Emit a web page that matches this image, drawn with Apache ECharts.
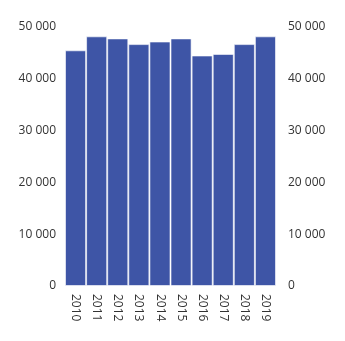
<!DOCTYPE html>
<html>
<head>
<meta charset="utf-8">
<script src="https://cdn.jsdelivr.net/npm/echarts@6/dist/echarts.min.js"></script>
<style>
  html, body { margin: 0; padding: 0; background: #fff; }
  #chart { width: 345px; height: 341px; }
</style>
</head>
<body>
<div id="chart"></div>
<script>
const years = ['2010', '2011', '2012', '2013', '2014', '2015', '2016', '2017', '2018', '2019'];
const values = [45500, 48200, 47800, 46700, 47200, 47800, 44500, 44800, 46700, 48200];
const yMin = 0;
const yMax = 50000;
const yStep = 10000;

const fmt = v => String(v).replace(/\B(?=(\d{3})+(?!\d))/g, '\u00a0');

const axisLabel = {
  color: '#333',
  fontFamily: 'Open Sans',
  fontSize: 12,
  formatter: fmt
};

const chart = echarts.init(document.getElementById('chart'), null, { renderer: 'canvas' });
chart.setOption({
  animation: false,
  grid: { left: 65, right: 69, top: 27, bottom: 55 },
  xAxis: {
    type: 'category',
    data: years,
    axisLine: { show: false },
    axisTick: { show: false },
    axisLabel: { color: '#333', fontFamily: 'Open Sans', fontSize: 12, rotate: -90, margin: 8 }
  },
  yAxis: [
    {
      type: 'value', min: yMin, max: yMax, interval: yStep, position: 'left',
      splitLine: { show: false }, axisLine: { show: false }, axisTick: { show: false },
      axisLabel: Object.assign({ margin: 9 }, axisLabel)
    },
    {
      type: 'value', min: yMin, max: yMax, interval: yStep, position: 'right',
      splitLine: { show: false }, axisLine: { show: false }, axisTick: { show: false },
      axisLabel: Object.assign({ margin: 12 }, axisLabel)
    }
  ],
  series: [{
    type: 'bar',
    data: values,
    barCategoryGap: 0,
    itemStyle: { color: '#3e55a6', borderColor: 'rgba(255,255,255,0.6)', borderWidth: 1 }
  }]
});
</script>
</body>
</html>
